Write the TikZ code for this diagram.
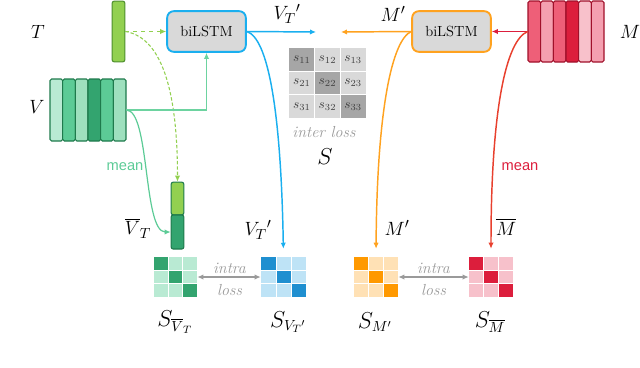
\documentclass[tikz,border=0pt]{standalone}
\usepackage{fontspec}
\usepackage{amsmath}
\newfontfamily\meanfont{Liberation Sans}
\usetikzlibrary{arrows.meta,fit}
\definecolor{boxgray}{HTML}{D9D9D9}
\definecolor{lcyan}{HTML}{1AAFEF}
\definecolor{lorange}{HTML}{FFA21F}
\definecolor{gA}{HTML}{B9EAD3}
\definecolor{gB}{HTML}{5CCB96}
\definecolor{gC}{HTML}{9EE0BE}
\definecolor{gD}{HTML}{33A46F}
\definecolor{gBorder}{HTML}{1E7A4C}
\definecolor{tgreen}{HTML}{92D050}
\definecolor{tborder}{HTML}{4E8F2E}
\definecolor{lgreen}{HTML}{6DD3A0}
\definecolor{rA}{HTML}{EE5F78}
\definecolor{rB}{HTML}{F4A0B0}
\definecolor{rC}{HTML}{DC1E3C}
\definecolor{rD}{HTML}{F8C1CB}
\definecolor{rBorder}{HTML}{A0102A}
\definecolor{bDiag}{HTML}{1F8FD0}
\definecolor{bOff}{HTML}{BEE3F6}
\definecolor{oDiag}{HTML}{FF9900}
\definecolor{oOff}{HTML}{FFE1B5}
\definecolor{pOff}{HTML}{F7C1CB}
\definecolor{lossgray}{HTML}{9A9A9A}
\definecolor{sDiag}{HTML}{A6A6A6}
\definecolor{sOff}{HTML}{D9D9D9}
\definecolor{mred}{HTML}{E8402E}

\newcommand{\simmat}[7]{%
  \node[fit={(#2,#3)(#4,#5)},inner sep=0pt] (#1) {};
  \foreach \i in {0,1,2}{\foreach \j in {0,1,2}{%
    \ifnum\i=\j\relax \def\cc{#6}\else\def\cc{#7}\fi
    \fill[\cc] ({#2+\i*(#4-#2)/3},{#3+\j*(#5-#3)/3}) rectangle ({#2+(\i+1)*(#4-#2)/3},{#3+(\j+1)*(#5-#3)/3});
  }}
  \draw[white,line width=0.7pt] ({#2+(#4-#2)/3},#3) -- ({#2+(#4-#2)/3},#5)
     ({#2+2*(#4-#2)/3},#3) -- ({#2+2*(#4-#2)/3},#5)
     (#2,{#3+(#5-#3)/3}) -- (#4,{#3+(#5-#3)/3})
     (#2,{#3+2*(#5-#3)/3}) -- (#4,{#3+2*(#5-#3)/3});
}

\begin{document}
\begin{tikzpicture}[x=0.75pt,y=-0.75pt,>={Latex[length=4.5pt,width=4pt]},
  lstm/.style={rounded corners=5pt,fill=boxgray,line width=1.4pt,minimum width=59pt,minimum height=30.5pt,inner sep=0pt,font=\fontsize{11}{13}\selectfont},
  lbl/.style={font=\fontsize{15}{18}\selectfont,inner sep=0pt},
  slbl/.style={font=\fontsize{16}{19}\selectfont,inner sep=0pt},
  losstxt/.style={text=lossgray,font=\fontsize{12}{14}\selectfont\itshape,inner sep=0pt},
  meantxt/.style={font=\meanfont\fontsize{11}{13}\selectfont,inner sep=0pt},
  conn/.style={line width=1.1pt},
  col/.style={rounded corners=1.2pt,line width=0.8pt}]
\useasboundingbox (0,0) rectangle (640,368);

% --- left: T, V, biLSTM
\node[lbl] (Tl) at (38,32) {$T$};
\node[fill=tgreen,draw=tborder,rounded corners=1.5pt,line width=0.8pt,minimum width=9.5pt,minimum height=45.5pt,inner sep=0pt] (T) at (118.5,31.5) {};
\node[lbl] (Vl) at (37,107) {$V$};
\foreach \k/\c in {0/gA,1/gB,2/gC,3/gD,4/gB,5/gC}{
  \draw[col,fill=\c,draw=gBorder] ({50+\k*76/6},79) rectangle ({50+(\k+1)*76/6},141);
}
\node[fit={(50,79)(126,141)},inner sep=0pt] (V) {};
\node[lstm,draw=lcyan] (bil1) at (206.5,31.5) {biLSTM};

% small bar
\node[fill=tgreen,draw=gBorder,rounded corners=1.5pt,line width=0.8pt,minimum width=9.5pt,minimum height=24.5pt,inner sep=0pt] (vbarT) at (177.5,198.5) {};
\node[fill=gD,draw=gBorder,rounded corners=1.5pt,line width=0.8pt,minimum width=9.5pt,minimum height=25.5pt,inner sep=0pt] (vbarB) at (177.5,232) {};
\node[lbl] (vbl) at (138,228) {$\overline{V}_T$};

% --- right: M, biLSTM
\node[lstm,draw=lorange] (bil2) at (451.5,31.5) {biLSTM};
\foreach \k/\c in {0/rA,1/rB,2/rA,3/rC,4/rD,5/rB}{
  \draw[col,fill=\c,draw=rBorder] ({528+\k*76/6},1) rectangle ({528+(\k+1)*76/6},62);
}
\node[fit={(528,1)(604,62)},inner sep=0pt] (M) {};
\node[lbl] (Ml) at (630,32) {$M$};

% --- S matrix
\node[fit={(289,48)(366,118)},inner sep=0pt] (S) {};
\foreach \i in {1,2,3}{\foreach \j in {1,2,3}{%
  \ifnum\i=\j\relax \def\cc{sDiag}\else\def\cc{sOff}\fi
  \fill[\cc] ({289+(\j-1)*77/3},{48+(\i-1)*70/3}) rectangle ({289+\j*77/3},{48+\i*70/3});
  \node[text=black!75,font=\fontsize{10}{12}\selectfont,inner sep=0pt] (s\i\j) at ({289+(\j-0.5)*77/3},{48+(\i-0.5)*70/3}) {$s_{\i\j}$};
}}
\draw[white,line width=0.8pt] ({289+77/3},48) -- ({289+77/3},118) ({289+2*77/3},48) -- ({289+2*77/3},118)
  (289,{48+70/3}) -- (366,{48+70/3}) (289,{48+2*70/3}) -- (366,{48+2*70/3});
\node[losstxt] (inter) at (324,132) {inter loss};
\node[slbl] (Sl) at (325,157) {$S$};

% --- output labels / coordinates
\coordinate (vtout) at (316,32);
\coordinate (mout) at (341,32);
\node[lbl] (vtl) at (287,14) {$V_T{}'$};
\node[lbl] (mpl) at (393,14) {$M'$};

% --- similarity matrices
\simmat{SVb}{154}{257}{197}{297}{gD}{gA}
\simmat{SVp}{261}{257}{306}{297}{bDiag}{bOff}
\simmat{SMp}{354}{257}{398}{297}{oDiag}{oOff}
\simmat{SMb}{469}{257}{513}{297}{rC}{pOff}

\node[lbl] (vtl2) at (258,230) {$V_T{}'$};
\node[lbl] (mpl2) at (397,228) {$M'$};
\node[lbl] (mbl) at (506,227) {$\overline{M}$};

\node[slbl] (l1) at (175,322) {$S_{\overline{V}_T}$};
\node[slbl] (l2) at (288,322) {$S_{V_T{}'}$};
\node[slbl] (l3) at (375,322) {$S_{M'}$};
\node[slbl] (l4) at (490,322) {$S_{\overline{M}}$};

\node[losstxt] (i1a) at (229.5,268) {intra};
\node[losstxt] (i1b) at (229.5,290) {loss};
\node[losstxt] (i2a) at (433.5,268) {intra};
\node[losstxt] (i2b) at (433.5,290) {loss};

% --- connectors
\draw[conn,tgreen,dashed,->] (T.east) -- (bil1.west);
\draw[tgreen,line width=0.8pt,dash pattern=on 2.5pt off 1.5pt,->] (T.east) .. controls (165,38) and (177.5,100) .. (vbarT.north);
\draw[conn,lgreen,->] (V.east) -| (bil1.south);
\draw[line width=0.9pt,gB,->] (V.east) .. controls (150,110) and (143,232) .. (vbarB.west);
\node[meantxt,text=gB] (mean1) at (125,167) {mean};

\draw[conn,lcyan,->] (bil1.east) -- (vtout);
\draw[conn,lcyan,->,shorten >=6pt] (bil1.east) .. controls (268,38) and (281,110) .. (SVp.north);

\draw[conn,rC,->] (M.west) -- (bil2.east);
\draw[conn,lorange,->] (bil2.west) -- (mout);
\draw[conn,lorange,->,shorten >=6pt] (bil2.west) .. controls (392,40) and (377,110) .. (SMp.north);
\draw[conn,mred,->,shorten >=6pt] (M.west) .. controls (506,40) and (491,110) .. (SMb.north);
\node[meantxt,text=rC] (mean2) at (520,167) {mean};

\draw[conn,lossgray,<->] (SVb.east) -- (SVp.west);
\draw[conn,lossgray,<->] (SMp.east) -- (SMb.west);
\end{tikzpicture}
\end{document}
